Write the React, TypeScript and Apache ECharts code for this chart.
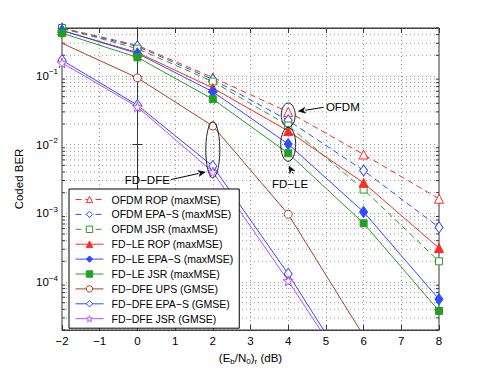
import React, { useEffect, useRef } from "react";
import * as echarts from "echarts";

const snr = [-2, 0, 2, 4, 6, 8];
const snrDfe = [-2, 0, 2, 4, 6];

const ofdmRop = [0.5, 0.28, 0.095, 0.03, 0.0072, 0.00163];
const ofdmEpas = [0.49, 0.27, 0.089, 0.0226, 0.0042, 0.000625];
const ofdmJsr = [0.5, 0.25, 0.083, 0.019, 0.00222, 0.0002];
const fdleRop = [0.46, 0.22, 0.067, 0.0158, 0.00278, 0.000312];
const fdleEpas = [0.46, 0.213, 0.059, 0.0102, 0.00105, 0.000056];
const fdleJsr = [0.42, 0.187, 0.046, 0.0075, 0.000715, 0.000038];
const dfeUps = [0.3, 0.094, 0.0187, 0.00097, 0.0000165];
const dfeEpas = [0.17, 0.0376, 0.00486, 0.000131, 0.0000024];
const dfeJsr = [0.155, 0.0355, 0.004, 0.000104, 0.0000022];

const yMin = 2e-5;
const yMax = 0.5;

const FONT = "'Liberation Sans', Arial, Helvetica, sans-serif";
const RED = "#ff2a2a";
const BLUE = "#2e4dff";
const GREEN = "#22a022";
const BROWN = "#ad3f22";
const PURPLE = "#b84dff";
const STAR =
  "path://M50,0 L61,35 L98,35 L68,57 L79,91 L50,70 L21,91 L32,57 L2,35 L39,35 Z";

function minorValues(): number[] {
  const out: number[] = [];
  for (let k = -5; k <= -1; k++) {
    for (let m = 2; m <= 9; m++) {
      const v = m * Math.pow(10, k);
      if (v >= yMin * 0.999 && v <= yMax * 1.001) out.push(v);
    }
  }
  return out;
}

const minus = (n: number) => (n < 0 ? "\u2212" + Math.abs(n) : String(n));

function mkSeries(
  name: string,
  xs: number[],
  ys: number[],
  color: string,
  dashed: boolean,
  symbol: string,
  size: number | number[],
  hollow: boolean,
  hideFirst = false
) {
  return {
    name,
    type: "line",
    data: xs.map((x, i) =>
      hideFirst && i === 0 ? { value: [x, ys[i]], symbol: "none" } : [x, ys[i]]
    ),
    symbol,
    symbolSize: size,
    showAllSymbol: true,
    clip: true,
    color,
    lineStyle: { color, width: 1, type: dashed ? [6, 4] : "solid" },
    itemStyle: hollow
      ? { color: "#ffffff", borderColor: color, borderWidth: 1 }
      : { color, borderColor: color, borderWidth: 1 },
    z: 3,
  };
}

export default function App() {
  const ref = useRef<HTMLDivElement>(null);
  useEffect(() => {
    document.body.style.margin = "0";
    if (!ref.current) return;
    const chart = echarts.init(ref.current, undefined, { renderer: "svg" });
    const minors = minorValues();
    const series: any[] = [
      mkSeries("OFDM ROP (maxMSE)", snr, ofdmRop, RED, true, "triangle", 9, true),
      mkSeries("OFDM EPA\u2212S (maxMSE)", snr, ofdmEpas, BLUE, true, "diamond", [8, 11], true),
      mkSeries("OFDM JSR (maxMSE)", snr, ofdmJsr, GREEN, true, "rect", 7, true),
      mkSeries("FD\u2212LE ROP (maxMSE)", snr, fdleRop, RED, false, "triangle", 9, false),
      mkSeries("FD\u2212LE EPA\u2212S (maxMSE)", snr, fdleEpas, BLUE, false, "diamond", [8, 11], false),
      mkSeries("FD\u2212LE JSR (maxMSE)", snr, fdleJsr, GREEN, false, "rect", 7, false),
      mkSeries("FD\u2212DFE UPS (GMSE)", snrDfe, dfeUps, BROWN, false, "circle", 8, true, true),
      mkSeries("FD\u2212DFE EPA\u2212S (GMSE)", snrDfe, dfeEpas, BLUE, false, "diamond", [8, 11], true),
      mkSeries("FD\u2212DFE JSR (GMSE)", snrDfe, dfeJsr, PURPLE, false, STAR, 10, true),
    ];
    const legendNames = series.map((s) => s.name);
    series.push({
      name: "minorGrid",
      type: "custom",
      silent: true,
      z: 1,
      clip: false,
      data: minors.map((v) => [-2, v]),
      renderItem: (_p: any, api: any) => {
        const v = api.value(1);
        const a = api.coord([-2, v]);
        const b = api.coord([8, v]);
        return {
          type: "group",
          children: [
            {
              type: "line",
              shape: { x1: a[0], y1: a[1], x2: b[0], y2: b[1] },
              style: { stroke: "#a0a0a0", lineWidth: 1, lineDash: [1, 3] },
            },
            {
              type: "line",
              shape: { x1: a[0], y1: a[1], x2: a[0] + 3, y2: a[1] },
              style: { stroke: "#333", lineWidth: 1 },
            },
            {
              type: "line",
              shape: { x1: b[0] - 3, y1: b[1], x2: b[0], y2: b[1] },
              style: { stroke: "#333", lineWidth: 1 },
            },
          ],
        };
      },
    });

    const yLabel = (v: number) => {
      const l = Math.log10(v);
      const r = Math.round(l);
      if (Math.abs(l - r) > 1e-6) return "";
      return `{b|10}{s|${minus(r)}}`;
    };

    const option: any = {
      animation: false,
      backgroundColor: "#ffffff",
      textStyle: { fontFamily: FONT },
      grid: {
        left: 62,
        right: 46,
        top: 28,
        bottom: 46,
        show: true,
        borderColor: "#333",
        borderWidth: 1,
      },
      legend: {
        data: legendNames,
        orient: "vertical",
        left: 69,
        top: 189,
        itemWidth: 28,
        itemHeight: 8,
        itemGap: 3.9,
        padding: [5, 6, 4, 6],
        backgroundColor: "#ffffff",
        borderColor: "#000",
        borderWidth: 1,
        lineStyle: { width: 1 },
        itemStyle: { borderWidth: 1 },
        textStyle: { fontSize: 10.5, color: "#000", fontFamily: FONT, padding: [0, 0, 0, 3] },
        selectedMode: false,
        z: 5,
      },
      xAxis: [
        {
          type: "value",
          min: -2,
          max: 8,
          interval: 1,
          position: "bottom",
          name: "(E{sub|b}/N{sub|0}){sub|r} (dB)",
          nameLocation: "middle",
          nameGap: 20,
          nameTextStyle: {
            fontSize: 11.5,
            color: "#000",
            fontFamily: FONT,
            rich: { sub: { fontSize: 8, padding: [7, 0, 0, 0], fontFamily: FONT } },
          },
          axisLine: { show: true, lineStyle: { color: "#333" } },
          axisTick: { show: true, inside: true, length: 5, lineStyle: { color: "#333" } },
          axisLabel: {
            fontSize: 11.5,
            color: "#000",
            margin: 5,
            fontFamily: FONT,
            formatter: (v: number) => minus(v),
          },
          splitLine: { show: true, lineStyle: { color: "#a0a0a0", type: [1, 3] } },
        },
        {
          type: "value",
          min: -2,
          max: 8,
          interval: 1,
          position: "top",
          axisLine: { show: true, lineStyle: { color: "#333" } },
          axisTick: { show: true, inside: true, length: 5, lineStyle: { color: "#333" } },
          axisLabel: { show: false },
          splitLine: { show: false },
        },
      ],
      yAxis: [
        {
          type: "log",
          logBase: 10,
          min: yMin,
          max: yMax,
          position: "left",
          name: "Coded BER",
          nameLocation: "middle",
          nameGap: 30,
          nameRotate: 90,
          nameTextStyle: { fontSize: 11.5, color: "#000", fontFamily: FONT },
          axisLine: { show: true, lineStyle: { color: "#333" } },
          axisTick: { show: true, inside: true, length: 5, lineStyle: { color: "#333" } },
          axisLabel: {
            margin: 4,
            color: "#000",
            fontFamily: FONT,
            formatter: yLabel,
            showMinLabel: false,
            showMaxLabel: false,
            rich: {
              b: { fontSize: 11.5, fontFamily: FONT, color: "#000" },
              s: { fontSize: 8, fontFamily: FONT, color: "#000", padding: [0, 0, 8, 0] },
            },
          },
          splitLine: { show: true, lineStyle: { color: "#a0a0a0", type: [1, 3] } },
        },
        {
          type: "log",
          logBase: 10,
          min: yMin,
          max: yMax,
          position: "right",
          axisLine: { show: true, lineStyle: { color: "#333" } },
          axisTick: { show: true, inside: true, length: 5, lineStyle: { color: "#333" } },
          axisLabel: { show: false },
          splitLine: { show: false },
        },
      ],
      series,
    };
    chart.setOption(option);

    const px = (x: number, y: number) =>
      chart.convertToPixel({ xAxisIndex: 0, yAxisIndex: 0 }, [x, y]) as number[];

    const ellipses = [
      { x: 4, y: 0.027, rx: 7, ry: 12 },
      { x: 4, y: 0.0101, rx: 7.5, ry: 17 },
      { x: 2, y: 0.0084, rx: 7, ry: 28 },
    ];
    const labels = [
      { text: "OFDM", x: 5.0, y: 0.0355, align: "left" },
      { text: "FD\u2212LE", x: 4.05, y: 0.0027, align: "center" },
      { text: "FD\u2212DFE", x: 0.86, y: 0.0031, align: "right" },
    ];
    const arrows = [
      { x1: 4.94, y1: 0.035, x2: 4.27, y2: 0.0306 },
      { x1: 4.13, y1: 0.0038, x2: 4.02, y2: 0.0049 },
      { x1: 0.89, y1: 0.0031, x2: 1.8, y2: 0.004 },
    ];

    const graphic: any[] = [];
    ellipses.forEach((e) => {
      const c = px(e.x, e.y);
      graphic.push({
        type: "ellipse",
        shape: { cx: c[0], cy: c[1], rx: e.rx, ry: e.ry },
        style: { fill: "none", stroke: "#222", lineWidth: 1 },
        z: 10,
        silent: true,
      });
    });
    labels.forEach((l) => {
      const c = px(l.x, l.y);
      graphic.push({
        type: "text",
        x: c[0],
        y: c[1],
        style: {
          text: l.text,
          fontSize: 11.5,
          fontFamily: FONT,
          fill: "#000",
          align: l.align,
          verticalAlign: "middle",
        },
        z: 10,
        silent: true,
      });
    });
    arrows.forEach((a) => {
      const p = px(a.x1, a.y1);
      const q = px(a.x2, a.y2);
      const dx = q[0] - p[0];
      const dy = q[1] - p[1];
      const len = Math.hypot(dx, dy) || 1;
      const ux = dx / len;
      const uy = dy / len;
      const hl = 7;
      const hw = 3;
      const bx = q[0] - ux * hl;
      const by = q[1] - uy * hl;
      graphic.push({
        type: "line",
        shape: { x1: p[0], y1: p[1], x2: bx, y2: by },
        style: { stroke: "#000", lineWidth: 1 },
        z: 10,
        silent: true,
      });
      graphic.push({
        type: "polygon",
        shape: {
          points: [
            [q[0], q[1]],
            [bx - uy * hw, by + ux * hw],
            [bx + ux * 2, by + uy * 2],
            [bx + uy * hw, by - ux * hw],
          ],
        },
        style: { fill: "#000", stroke: "#000", lineWidth: 0.5 },
        z: 10,
        silent: true,
      });
    });
    chart.setOption({ graphic });

    return () => chart.dispose();
  }, []);
  return <div ref={ref} style={{ width: 485, height: 376 }} />;
}
